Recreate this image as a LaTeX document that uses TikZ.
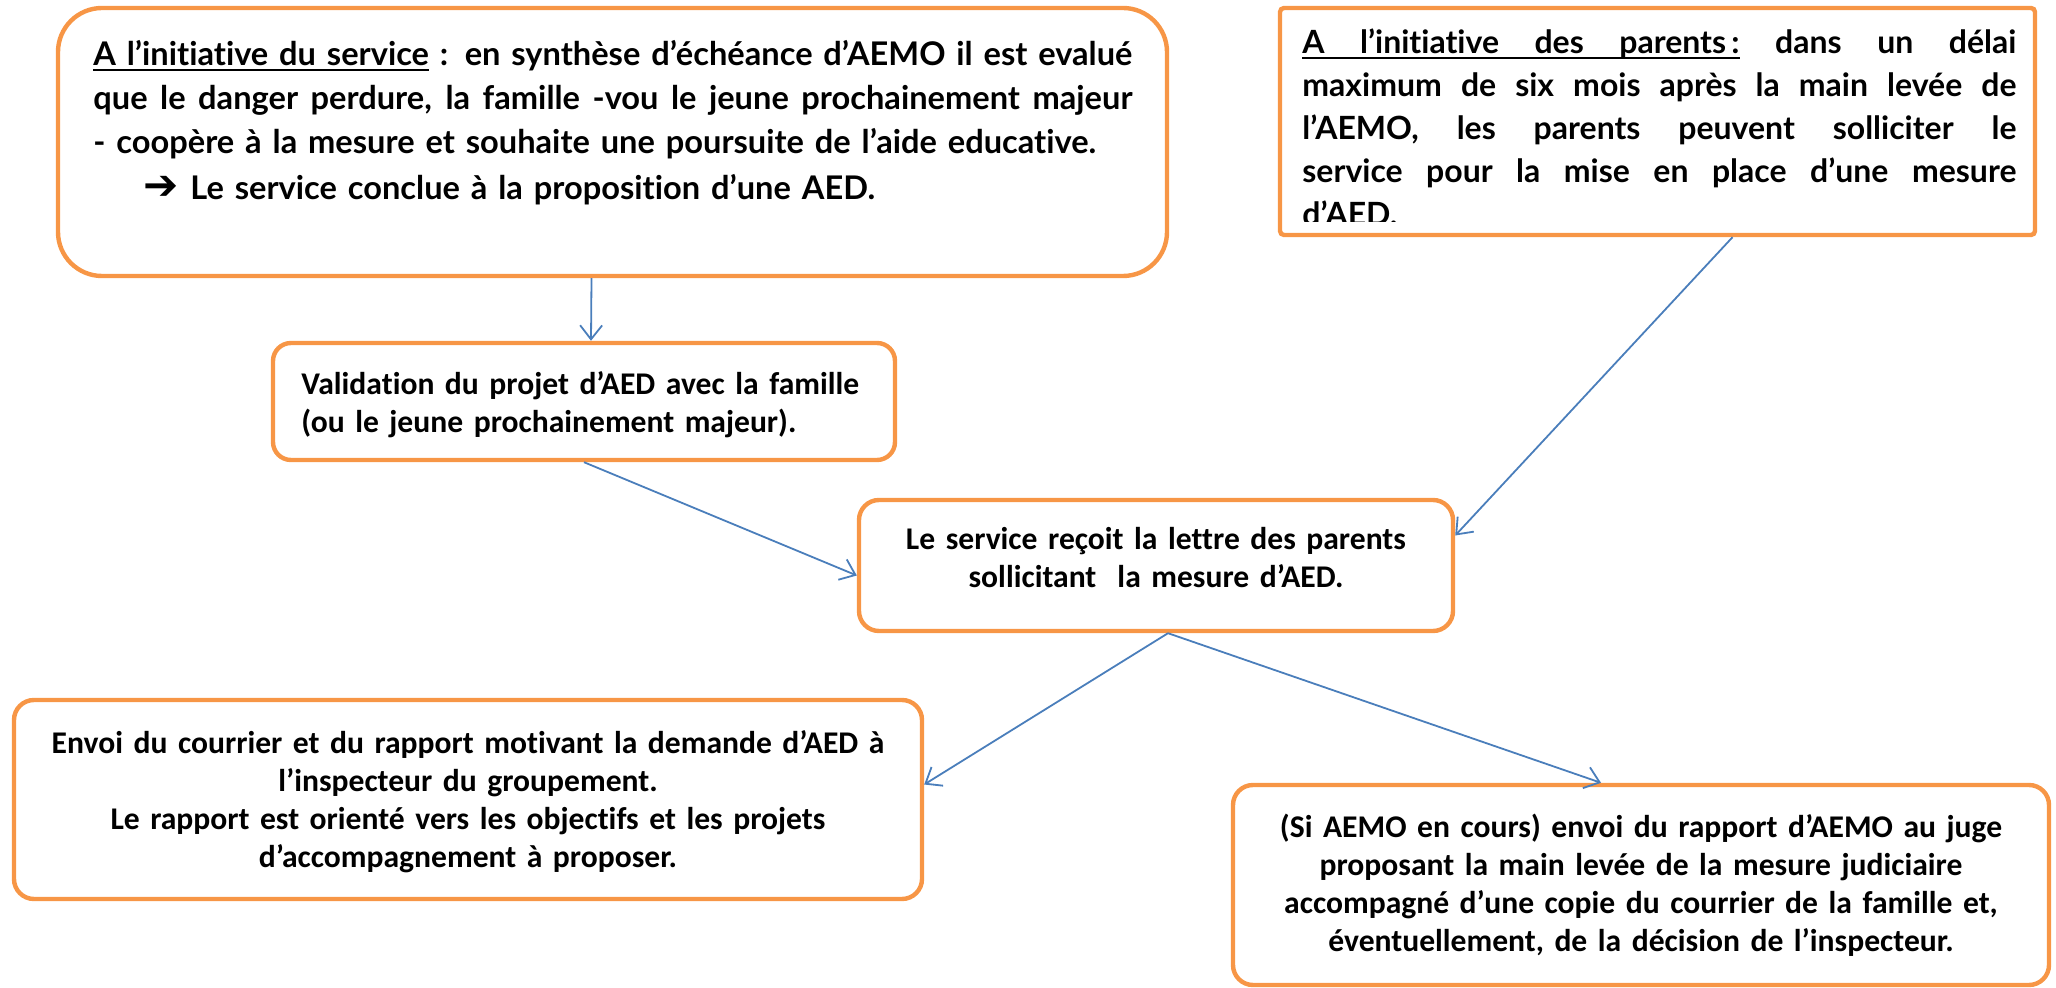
\documentclass[tikz,border=0pt]{standalone}
\usepackage{fontspec}
\setmainfont{Carlito}[Ligatures=NoCommon]
\newfontfamily\gillfont{Lato}[Ligatures=NoCommon]
\newfontfamily\symbfont{DejaVu Sans}
\usetikzlibrary{arrows.meta,calc}

\definecolor{boxorange}{HTML}{F79646}
\definecolor{linkblue}{HTML}{4A7EBB}

% justified line
\newcommand{\jline}[1]{\makebox[\linewidth][s]{\spaceskip=0pt\xspaceskip=0pt#1}}
% underlined word and underlined (stretchable) space
\newcommand{\ulword}[1]{\setbox0\hbox{#1}\leavevmode\rlap{\vrule height -1.6pt depth 2.6pt width \wd0}\box0\relax}
\newcommand{\ulsp}{\leaders\hrule height -1.6pt depth 2.6pt\hskip\fontdimen2\font plus\fontdimen3\font minus\fontdimen4\font}

\tikzset{
  box/.style={draw=boxorange,line width=2.2pt,inner sep=0pt},
  link/.style={draw=linkblue,line width=0.9pt,-{Straight Barb[length=7pt,width=11pt]}},
  toptext/.style={inner sep=0pt,align=left,font=\gillfont\bfseries\fontsize{16.3}{21}\selectfont},
  boxtext/.style={inner sep=0pt,font=\bfseries\fontsize{15.8}{19}\selectfont}
}

\begin{document}
\begin{tikzpicture}[x=0.5pt,y=0.5pt,yscale=-1]
\useasboundingbox (0,0) rectangle (2056,988);

%Shape: Rounded Rect [service]
\node (svc) [box,rounded corners=22pt,minimum width=554.5pt,minimum height=134pt] at (612.5,142) {};
%Shape: Rect [parents]
\node (par) [box,rounded corners=2pt,minimum width=377.5pt,minimum height=113.5pt] at (1657.5,121.5) {};
%Shape: Rounded Rect [validation]
\node (valid) [box,rounded corners=9pt,minimum width=311pt,minimum height=58.5pt] at (584,401.5) {};
%Shape: Rounded Rect [reception]
\node (recv) [box,rounded corners=10pt,minimum width=297pt,minimum height=65.5pt] at (1156,565.5) {};
%Shape: Rounded Rect [envoi]
\node (envoi) [box,rounded corners=10pt,minimum width=454pt,minimum height=99.5pt] at (468,799.5) {};
%Shape: Rounded Rect [juge]
\node (juge) [box,rounded corners=10pt,minimum width=408pt,minimum height=100pt] at (1641,885) {};

% Text Node
\draw (93,66) node (svctxt) [anchor=base west][toptext,text width=519.5pt,font=\gillfont\bfseries\fontsize{16.3}{22}\selectfont] {\jline{\ulword{A}\ulsp\ulword{l’initiative}\ulsp\ulword{du}\ulsp\ulword{service} : en synthèse d’échéance d’AEMO il est evalué}\\
\jline{que le danger perdure, la famille -vou le jeune prochainement majeur}\\
- coopère à la mesure et souhaite une poursuite de l’aide educative.\\[1pt]
\hspace*{25pt}\makebox[23.5pt][l]{\symbfont\bfseries\fontsize{21}{21}\selectfont ➔}Le service conclue à la proposition d’une AED.};
% Text Node
\begin{scope}
\clip (1280,8) rectangle (2035,222);
\draw (1302,54) node (partxt) [anchor=base west][toptext,text width=357pt,font=\gillfont\bfseries\fontsize{16}{21.5}\selectfont] {\jline{\ulword{A}\ulsp\ulword{l’initiative}\ulsp\ulword{des}\ulsp\ulword{parents}\ulword{\,:} dans un délai}\\
\jline{maximum de six mois après la main levée de}\\
\jline{l’AEMO, les parents peuvent solliciter le}\\
\jline{service pour la mise en place d’une mesure}\\
d’AED.};
\end{scope}
% Text Node
\draw (301,395) node (validtxt) [anchor=base west][boxtext,text width=290pt,align=left] {Validation du projet d’AED avec la famille\\(ou le jeune prochainement majeur).};
% Text Node
\draw (1156,550) node (recvtxt) [anchor=base][boxtext,text width=280pt,align=center] {Le service reçoit la lettre des parents\\sollicitant\ \ la mesure d’AED.};
% Text Node
\draw (468,753) node (envoitxt) [anchor=base][boxtext,text width=440pt,align=center] {Envoi du courrier et du rapport motivant la demande d’AED à\\l’inspecteur du groupement.\\Le rapport est orienté vers les objectifs et les projets\\d’accompagnement à proposer.};
% Text Node
\draw (1641,837) node (jugetxt) [anchor=base][boxtext,text width=395pt,align=center] {(Si AEMO en cours) envoi du rapport d’AEMO au juge\\proposant la main levée de la mesure judiciaire\\accompagné d’une copie du courrier de la famille et,\\éventuellement, de la décision de l’inspecteur.};

% Connectors
\draw [link] ($(svc.south)+(-21,0)$) -- ($(valid.north)+(7,0)$);
\draw [link] (valid.south) -- ($(recv.west)+(0,10)$);
\draw [link] ($(par.south)+(75,0)$) -- ($(recv.east)+(0,-30)$);
\draw [link] ($(recv.south)+(12,0)$) -- ($(envoi.east)+(0,-15)$);
\draw [link] ($(recv.south)+(12,0)$) -- ($(juge.north)+(-40,0)$);

\end{tikzpicture}
\end{document}
